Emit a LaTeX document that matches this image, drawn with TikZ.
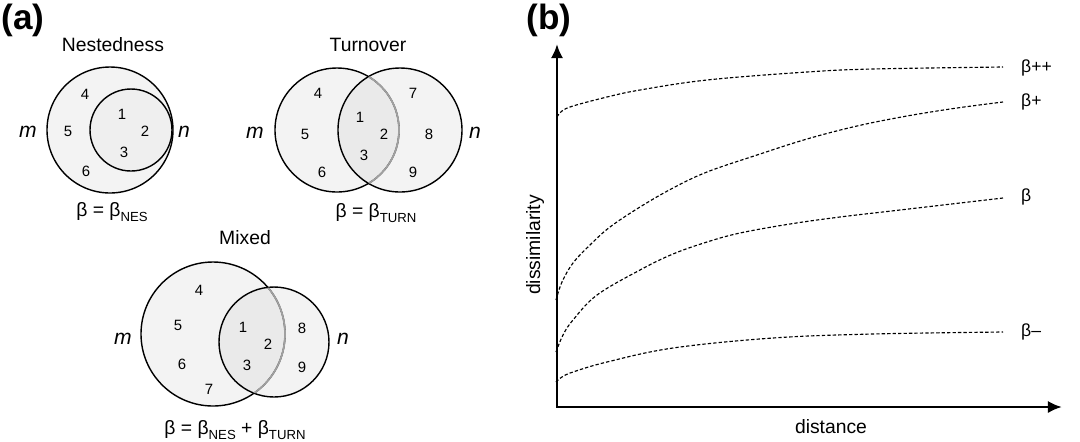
\documentclass[tikz,border=0pt]{standalone}
\usepackage{fontspec}
\setmainfont{Liberation Sans}
\usetikzlibrary{arrows.meta,positioning}
\definecolor{VennFill}{HTML}{F3F3F3}
\definecolor{VennOver}{HTML}{EAEAEA}
\definecolor{VennArc}{HTML}{A0A0A0}
\newcommand{\betasub}[1]{β\raisebox{-0.45ex}{\fontsize{7.5}{8}\selectfont #1}}

\begin{document}
\begin{tikzpicture}[x=0.02cm,y=-0.02cm,>=Latex,
  venn/.style={draw=black,line width=0.8pt},
  arc/.style={draw=VennArc,line width=1pt},
  num/.style={font=\fontsize{8.5}{9}\selectfont},
  side/.style={font=\fontsize{12}{13}\selectfont\itshape},
  ttl/.style={font=\fontsize{11}{12}\selectfont},
  eqn/.style={font=\fontsize{11}{12}\selectfont},
  panel/.style={font=\fontsize{20}{22}\selectfont\bfseries},
  axis/.style={line width=1.6pt,{Latex[length=8pt,width=7pt]}-{Latex[length=8pt,width=7pt]}},
  curve/.style={line width=0.65pt,dash pattern=on 1.9pt off 1.2pt},
  lab/.style={font=\fontsize{10}{12}\selectfont,anchor=west}]
\useasboundingbox (0,0) rectangle (1080,441);

% panel labels
\node[panel] (pa) at (23,20) {(a)};
\node[panel] (pb) at (549,20) {(b)};

% Nestedness
\fill[VennFill] (110,130) circle[radius=63];
\fill[VennFill!60!VennOver] (131,130) circle[radius=41];
\draw[venn] (110,130) circle[radius=63];
\draw[venn] (131,130) circle[radius=41];
\node[ttl] (t1) at (113,45) {Nestedness};
\node[side] (m1) at (28,132) {m};
\node[side] (s1) at (184,132) {n};
\node[num] (a4) at (85,94) {4}; \node[num] (a5) at (68,131) {5}; \node[num] (a6) at (86,171) {6};
\node[num] (a1) at (122,114) {1}; \node[num] (a2) at (145,131) {2}; \node[num] (a3) at (124,152) {3};
\node[eqn] (e1) at (112,212) {β = \betasub{NES}};

% Turnover
\fill[VennFill] (337,130) circle[radius=62] (400,130) circle[radius=62];
\begin{scope}
  \clip (337,130) circle[radius=62];
  \fill[VennOver] (400,130) circle[radius=62];
\end{scope}
\draw[venn] (337,130) circle[radius=62];
\draw[venn] (400,130) circle[radius=62];
\begin{scope}
  \clip (400,130) circle[radius=61.6];
  \draw[arc] (337,130) circle[radius=62];
\end{scope}
\node[ttl] (t2) at (368,45) {Turnover};
\node[side] (m2) at (255,133) {m};
\node[side] (s2) at (475,133) {n};
\node[num] (b4) at (318,93) {4}; \node[num] (b5) at (305,134) {5}; \node[num] (b6) at (322,172) {6};
\node[num] (b1) at (360,117) {1}; \node[num] (b2) at (384,134) {2}; \node[num] (b3) at (364,155) {3};
\node[num] (b7) at (413,93) {7}; \node[num] (b8) at (429,134) {8}; \node[num] (b9) at (413,172) {9};
\node[eqn] (e2) at (376,213) {β = \betasub{TURN}};

% Mixed
\fill[VennFill] (213,334) circle[radius=72] (274,342) circle[radius=55];
\begin{scope}
  \clip (213,334) circle[radius=72];
  \fill[VennOver] (274,342) circle[radius=55];
\end{scope}
\draw[venn] (213,334) circle[radius=72];
\draw[venn] (274,342) circle[radius=55];
\begin{scope}
  \clip (274,342) circle[radius=54.6];
  \draw[arc] (213,334) circle[radius=72];
\end{scope}
\node[ttl] (t3) at (245,238) {Mixed};
\node[side] (m3) at (123,339) {m};
\node[side] (s3) at (343,339) {n};
\node[num] (c4) at (199,290) {4}; \node[num] (c5) at (178,325) {5}; \node[num] (c6) at (182,364) {6};
\node[num] (c7) at (209,389) {7};
\node[num] (c1) at (243,327) {1}; \node[num] (c2) at (268,344) {2}; \node[num] (c3) at (247,365) {3};
\node[num] (c8) at (302,328) {8}; \node[num] (c9) at (302,367) {9};
\node[eqn] (e3) at (235,430) {β = \betasub{NES} + \betasub{TURN}};

% (b) axes
\coordinate (o) at (557,407);
\coordinate (ytop) at (557,44);
\coordinate (xend) at (1062,407);
\draw[axis] (ytop) -- (o) -- (xend);
\node[ttl] (yl) at (535,245) [rotate=90] {dissimilarity};
\node[ttl] (xl) at (831,427) {distance};

% curves
\draw[curve] plot[smooth,tension=0.6] coordinates {(557,117) (562,111) (573,106) (607,97) (640,90) (707,80) (807,72) (873,69) (1003,67)};
\draw[curve] plot[smooth,tension=0.6] coordinates {(556,300) (562,282) (573,263) (590,245) (610,227) (640,207) (673,188) (707,172) (757,155) (807,139) (857,126) (907,116) (957,108) (1003,102)};
\draw[curve] plot[smooth,tension=0.6] coordinates {(556,352) (563,335) (573,320) (597,295) (640,270) (673,254) (707,242) (740,233) (790,224) (840,217) (900,210) (1003,198)};
\draw[curve] plot[smooth,tension=0.6] coordinates {(556,382) (562,377) (573,372) (607,362) (673,348) (773,338) (873,334) (1003,332)};
\node[lab] (bpp) at (1015,68) {β++};
\node[lab] (bp) at (1015,102) {β+};
\node[lab] (b0) at (1015,197) {β};
\node[lab] (bm) at (1015,332) {β–};
\end{tikzpicture}
\end{document}
